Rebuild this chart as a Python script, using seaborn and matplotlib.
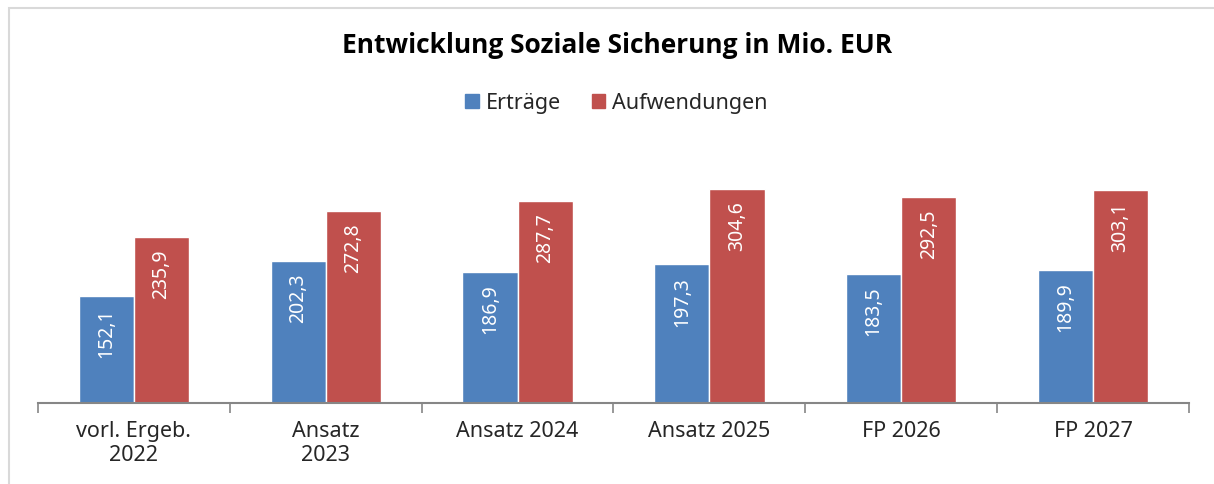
import pandas as pd
import matplotlib
matplotlib.use("Agg")
import matplotlib.pyplot as plt
import seaborn as sns
from matplotlib.ticker import FixedLocator

# data
categories = ["vorl. Ergeb.\n2022", "Ansatz\n2023", "Ansatz 2024", "Ansatz 2025", "FP 2026", "FP 2027"]
ertraege = [152.1, 202.3, 186.9, 197.3, 183.5, 189.9]
aufwendungen = [235.9, 272.8, 287.7, 304.6, 292.5, 303.1]
series_names = ["Erträge", "Aufwendungen"]
colors = ["#4F81BD", "#C0504D"]

df = pd.DataFrame({
    "category": categories * 2,
    "series": [series_names[0]] * len(categories) + [series_names[1]] * len(categories),
    "value": ertraege + aufwendungen,
})

sns.set_style("white")
plt.rcParams["font.family"] = ["Noto Sans", "DejaVu Sans"]

fig = plt.figure(figsize=(12.14, 4.84), dpi=100)
ax = fig.add_axes([0.0313, 0.1674, 0.9481, 0.508])

sns.barplot(data=df, x="category", y="value", hue="series", palette=colors,
            width=0.575, saturation=1, ax=ax, legend=False)

# value labels, rotated, inside top of bars
for container in ax.containers:
    for bar in container:
        h = bar.get_height()
        ax.annotate(f"{h:.1f}".replace(".", ","),
                    (bar.get_x() + bar.get_width() / 2, h),
                    xytext=(0, -9), textcoords="offset points",
                    rotation=90, ha="center", va="top",
                    color="white", fontsize=14)

ax.set_ylim(0, 350)
ax.set_xlim(-0.5, len(categories) - 0.5)
ax.set_xlabel("")
ax.set_ylabel("")
ax.set_yticks([])

# tick marks at category boundaries, labels at centres
ax.xaxis.set_major_locator(FixedLocator([i - 0.5 for i in range(len(categories) + 1)]))
ax.set_xticklabels([""] * (len(categories) + 1))
ax.xaxis.set_minor_locator(FixedLocator(range(len(categories))))
ax.set_xticklabels(categories, minor=True, fontsize=15.5, linespacing=1.2)
ax.tick_params(axis="x", which="major", length=7, width=1.2, color="#868686", direction="out", bottom=True)
ax.tick_params(axis="x", which="minor", length=0, pad=13, bottom=True)

for s in ["top", "right", "left"]:
    ax.spines[s].set_visible(False)
ax.spines["bottom"].set_color("#868686")
ax.spines["bottom"].set_linewidth(1.5)

fig.text(0.508, 0.905, "Entwicklung Soziale Sicherung in Mio. EUR",
         ha="center", va="center", fontsize=19, fontweight="bold", color="black",
         family=["Open Sans", "DejaVu Sans"])

handles = [plt.Rectangle((0, 0), 1, 1, color=c) for c in colors]
fig.legend(handles, series_names, loc="center", bbox_to_anchor=(0.508, 0.787), ncol=2,
           frameon=False, fontsize=15.5, handlelength=0.62, handleheight=0.62,
           handletextpad=0.35, columnspacing=1.4)

# light frame like the original chart area border
frame = plt.Rectangle((9 / 1214, -0.2), 1.3, 1.2 - 8 / 484, transform=fig.transFigure,
                      fill=False, edgecolor="#d9d9d9", linewidth=1.5)
fig.add_artist(frame)

fig.savefig("out.png", dpi=100)
